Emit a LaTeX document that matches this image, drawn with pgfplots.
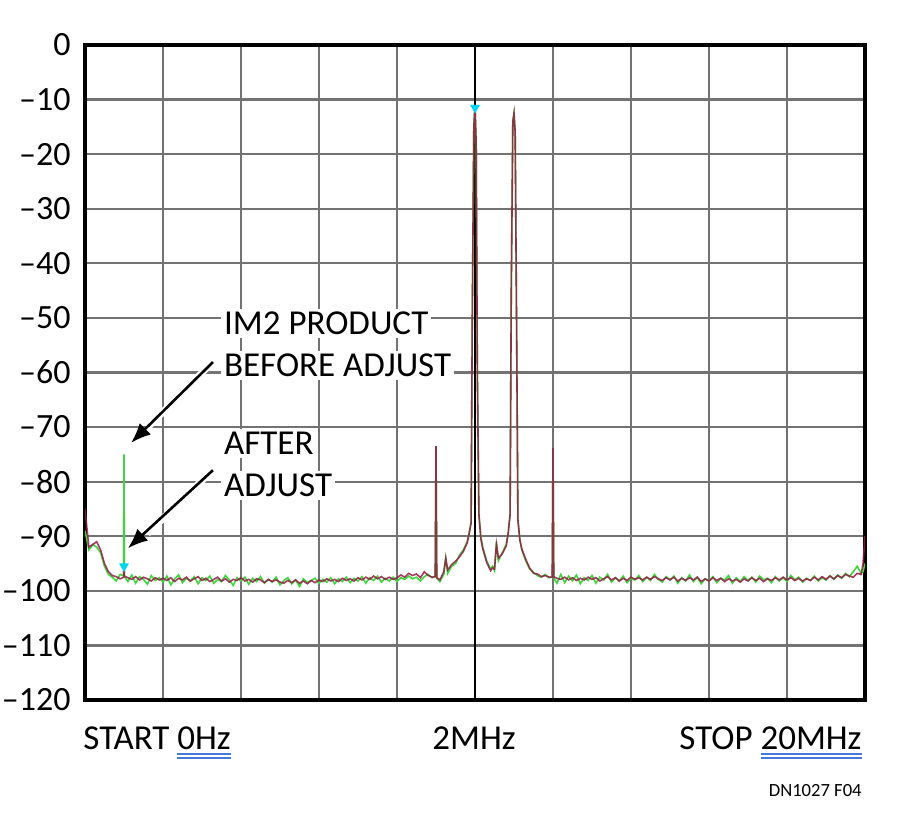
\documentclass[border=0pt]{standalone}
\usepackage{pgfplots}
\pgfplotsset{compat=1.18}
\usepackage{pgfplotstable}
\usetikzlibrary{arrows.meta}
\usepackage{fontspec}
\setmainfont{Carlito}
\definecolor{trgreen}{RGB}{60,215,60}
\definecolor{trred}{RGB}{150,25,70}
\definecolor{mkcyan}{RGB}{0,215,245}
\definecolor{ulblue}{RGB}{70,120,215}
\newcommand\dul[1]{\setbox0\hbox{#1}\vtop{\offinterlineskip\copy0\kern1.6pt\hbox{\color{ulblue}\rule{\wd0}{0.9pt}}\kern0.9pt\hbox{\color{ulblue}\rule{\wd0}{0.9pt}}}}

\pgfplotstableread{
x g r
0.0 -89 -85
0.1 -92.5 -92
0.2 -91.5 -91.5
0.3 -92 -91
0.4 -93 -92.5
0.5 -95.5 -95
0.6 -97 -96.5
0.7 -97.5 -97.2
0.8 -98.2 -97.4
0.9 -97.0 -97.8
0.99 -97.2 -97.5
1.00 -75 -95
1.01 -97.4 -97.3
1.1 -98.3 -97.6
1.2 -97.1 -97.9
1.3 -98.6 -97.4
1.4 -97.4 -98.0
1.5 -97.9 -97.5
1.6 -98.8 -97.8
1.7 -97.2 -98.2
1.8 -98.1 -97.6
1.9 -97.6 -98.0
2.0 -98.4 -97.7
2.1 -97.3 -98.1
2.2 -98.9 -97.6
2.3 -97.8 -98.3
2.4 -97.1 -97.7
2.5 -98.5 -98.0
2.6 -97.7 -97.5
2.7 -98.2 -98.2
2.8 -97.4 -97.8
2.9 -98.7 -97.4
3.0 -97.6 -98.1
3.1 -98.1 -97.7
3.2 -97.3 -98.3
3.3 -98.6 -97.9
3.4 -97.9 -97.5
3.5 -98.3 -98.2
3.6 -97.2 -97.8
3.7 -98.0 -98.4
3.8 -99.0 -97.9
3.9 -97.6 -98.1
4.0 -98.2 -97.6
4.1 -97.5 -98.2
4.2 -98.8 -97.9
4.3 -97.7 -98.4
4.4 -98.3 -97.8
4.5 -97.4 -98.0
4.6 -98.6 -98.5
4.7 -97.9 -97.9
4.8 -98.4 -98.3
4.9 -97.5 -98.0
5.0 -98.9 -98.4
5.1 -98.1 -98.6
5.2 -97.6 -98.1
5.3 -98.7 -98.5
5.4 -98.0 -98.0
5.5 -99.2 -98.6
5.6 -97.8 -98.2
5.7 -98.5 -98.7
5.8 -98.1 -98.1
5.9 -97.7 -98.5
6.0 -98.6 -98.0
6.1 -97.9 -98.3
6.2 -98.4 -97.8
6.3 -97.6 -98.2
6.4 -98.7 -97.9
6.5 -97.8 -98.3
6.6 -98.3 -97.7
6.7 -97.5 -98.1
6.8 -98.5 -97.8
6.9 -97.7 -98.2
7.0 -98.2 -97.6
7.1 -97.4 -98.0
7.2 -98.6 -97.5
7.3 -97.6 -97.9
7.4 -98.1 -97.3
7.5 -97.3 -97.8
7.6 -98.4 -97.4
7.7 -97.7 -97.9
7.8 -98.2 -97.5
7.9 -97.5 -97.9
8.0 -98.3 -97.6
8.1 -97.6 -97.1
8.2 -97.9 -97.5
8.3 -97.3 -96.8
8.4 -97.8 -97.2
8.5 -97.5 -96.9
8.6 -98.2 -97.6
8.7 -97.4 -96.5
8.8 -97.0 -97.2
8.9 -97.6 -97.5
8.98 -97.3 -97.4
9.0 -73.5 -73.5
9.02 -97.7 -97.6
9.1 -98.3 -98.0
9.2 -97.0 -96.5
9.25 -94.0 -94.0
9.3 -96.8 -96.2
9.4 -95.5 -95.2
9.5 -95.0 -94.6
9.6 -93.5 -93.8
9.7 -92.5 -92.8
9.8 -91.0 -91.2
9.85 -89.5 -89.5
9.9 -87.5 -87.5
9.93 -50 -50
9.97 -15 -15
10.0 -11 -11
10.03 -18 -18
10.06 -60 -60
10.1 -86 -86
10.15 -90.0 -90.5
10.2 -92.0 -92.3
10.3 -94.5 -94.8
10.4 -96.0 -96.3
10.45 -95.5 -95.8
10.5 -96.3 -96.0
10.55 -91.0 -91.5
10.6 -94.5 -94.0
10.7 -93.0 -93.2
10.8 -91.5 -91.8
10.85 -89.5 -89.5
10.9 -86 -86
10.93 -45 -45
10.97 -14 -14
11.0 -12.5 -12.5
11.03 -16 -16
11.07 -55 -55
11.1 -87 -87
11.15 -90.5 -90.7
11.2 -92.5 -92.3
11.3 -94.5 -94.2
11.4 -96.0 -95.8
11.5 -96.6 -96.8
11.6 -97.2 -96.9
11.7 -97.5 -97.4
11.8 -97.0 -97.2
11.9 -97.6 -97.5
11.98 -97.4 -97.5
12.0 -73.8 -73.8
12.02 -97.6 -97.4
12.1 -98.6 -97.7
12.2 -97.0 -97.9
12.3 -98.5 -97.5
12.4 -97.3 -98.0
12.5 -98.2 -97.6
12.6 -97.1 -98.1
12.7 -98.7 -97.7
12.8 -97.6 -98.0
12.9 -98.1 -97.5
13.0 -97.2 -97.9
13.1 -98.6 -97.6
13.2 -97.5 -98.2
13.3 -98.0 -97.8
13.4 -97.0 -97.4
13.5 -98.4 -98.0
13.6 -97.6 -97.6
13.7 -98.2 -98.2
13.8 -97.3 -97.7
13.9 -98.5 -98.1
14.0 -97.7 -97.5
14.1 -98.0 -97.9
14.2 -97.2 -97.6
14.3 -98.3 -98.0
14.4 -97.5 -97.5
14.5 -98.1 -97.9
14.6 -97.0 -97.4
14.7 -97.9 -97.8
14.8 -98.4 -98.1
14.9 -97.4 -97.6
15.0 -98.0 -98.0
15.1 -97.3 -97.5
15.2 -98.6 -98.2
15.3 -97.6 -97.7
15.4 -98.2 -98.1
15.5 -97.1 -97.6
15.6 -98.3 -98.0
15.7 -97.5 -97.5
15.8 -98.7 -98.3
15.9 -97.8 -97.8
16.0 -98.2 -98.2
16.1 -97.4 -97.6
16.2 -98.5 -98.1
16.3 -97.7 -97.7
16.4 -98.0 -98.3
16.5 -97.2 -97.8
16.6 -98.6 -98.2
16.7 -97.6 -97.9
16.8 -98.3 -98.4
16.9 -97.4 -97.8
17.0 -98.1 -98.2
17.1 -97.5 -97.6
17.2 -98.4 -98.1
17.3 -97.3 -97.7
17.4 -98.0 -98.3
17.5 -97.7 -97.8
17.6 -98.5 -98.1
17.7 -97.4 -97.6
17.8 -98.2 -98.0
17.9 -97.6 -97.5
18.0 -98.3 -98.0
18.1 -97.2 -97.6
18.2 -98.0 -98.1
18.3 -97.5 -97.7
18.4 -98.4 -98.2
18.5 -97.7 -97.8
18.6 -98.1 -98.1
18.7 -97.3 -97.5
18.8 -98.2 -98.0
18.9 -97.6 -97.4
19.0 -98.0 -97.9
19.1 -97.2 -97.3
19.2 -97.9 -97.8
19.3 -97.1 -97.2
19.4 -97.7 -97.6
19.5 -96.8 -97.0
19.6 -97.4 -97.3
19.7 -96.5 -97.5
19.8 -95.5 -96.8
19.9 -96.8 -97.0
19.95 -96.5 -95
20.0 -95 -90
}\spec

\begin{document}
\begin{tikzpicture}
\useasboundingbox (-42.5pt,-65pt) rectangle (407.5pt,350pt);
\begin{axis}[
  scale only axis, width=390pt, height=327.5pt,
  xmin=0, xmax=20, ymin=-120, ymax=0,
  xtick={0,2,...,20}, xticklabels={},
  ytick={-120,-110,...,0},
  yticklabels={–120,–110,–100,–90,–80,–70,–60,–50,–40,–30,–20,–10,0},
  tick style={draw=none},
  grid=major, grid style={line width=1.1pt, color=black!55},
  extra x ticks={10}, extra x tick labels={},
  extra x tick style={grid style={line width=1.2pt, color=black}},
  axis line style={line width=1.7pt, black},
  yticklabel style={font=\fontsize{17}{20}\selectfont, anchor=east, inner sep=0pt, xshift=-7pt},
]
\addplot[trgreen, line width=0.8pt] table[x=x, y=g] {\spec};
\addplot[trred, line width=0.8pt, opacity=0.85] table[x=x, y=r] {\spec};
\addplot[only marks, mark=triangle*, mark size=2.4pt, mark options={rotate=180, fill=mkcyan, draw=mkcyan}] coordinates {(1,-95.5) (10,-11.5)};

\begin{scope}[every node/.style={fill=white, inner sep=1.5pt, anchor=base west, font=\fontsize{17.5}{20}\selectfont}]
\node at (3.48,-53.1) {IM2 PRODUCT};
\node at (3.48,-60.8) {BEFORE ADJUST};
\node at (3.48,-75.1) {AFTER};
\node at (3.48,-82.8) {ADJUST};
\end{scope}
\draw[white, line width=3.5pt] (3.2,-58.6) -- (1.6,-70.1);
\draw[white, line width=3.5pt] (3.2,-78.4) -- (1.6,-89.5);
\draw[black, line width=1.3pt, -{Latex[length=10pt,width=8pt]}] (3.28,-58.1) -- (1.18,-72.9);
\draw[black, line width=1.3pt, -{Latex[length=10pt,width=8pt]}] (3.28,-77.9) -- (1.10,-92.2);
\end{axis}
\node[anchor=base west, inner sep=0pt, font=\fontsize{17.5}{20}\selectfont] at (-1pt,-25pt) {START \dul{0Hz}};
\node[anchor=base, inner sep=0pt, font=\fontsize{17.5}{20}\selectfont] at (194.5pt,-25pt) {2MHz};
\node[anchor=base east, inner sep=0pt, font=\fontsize{17.5}{20}\selectfont] at (388.5pt,-25pt) {STOP\ \dul{20MHz}};
\node[anchor=base east, inner sep=0pt, font=\fontsize{9.3}{11}\selectfont] at (388.5pt,-48.5pt) {DN1027 F04};
\end{tikzpicture}
\end{document}
